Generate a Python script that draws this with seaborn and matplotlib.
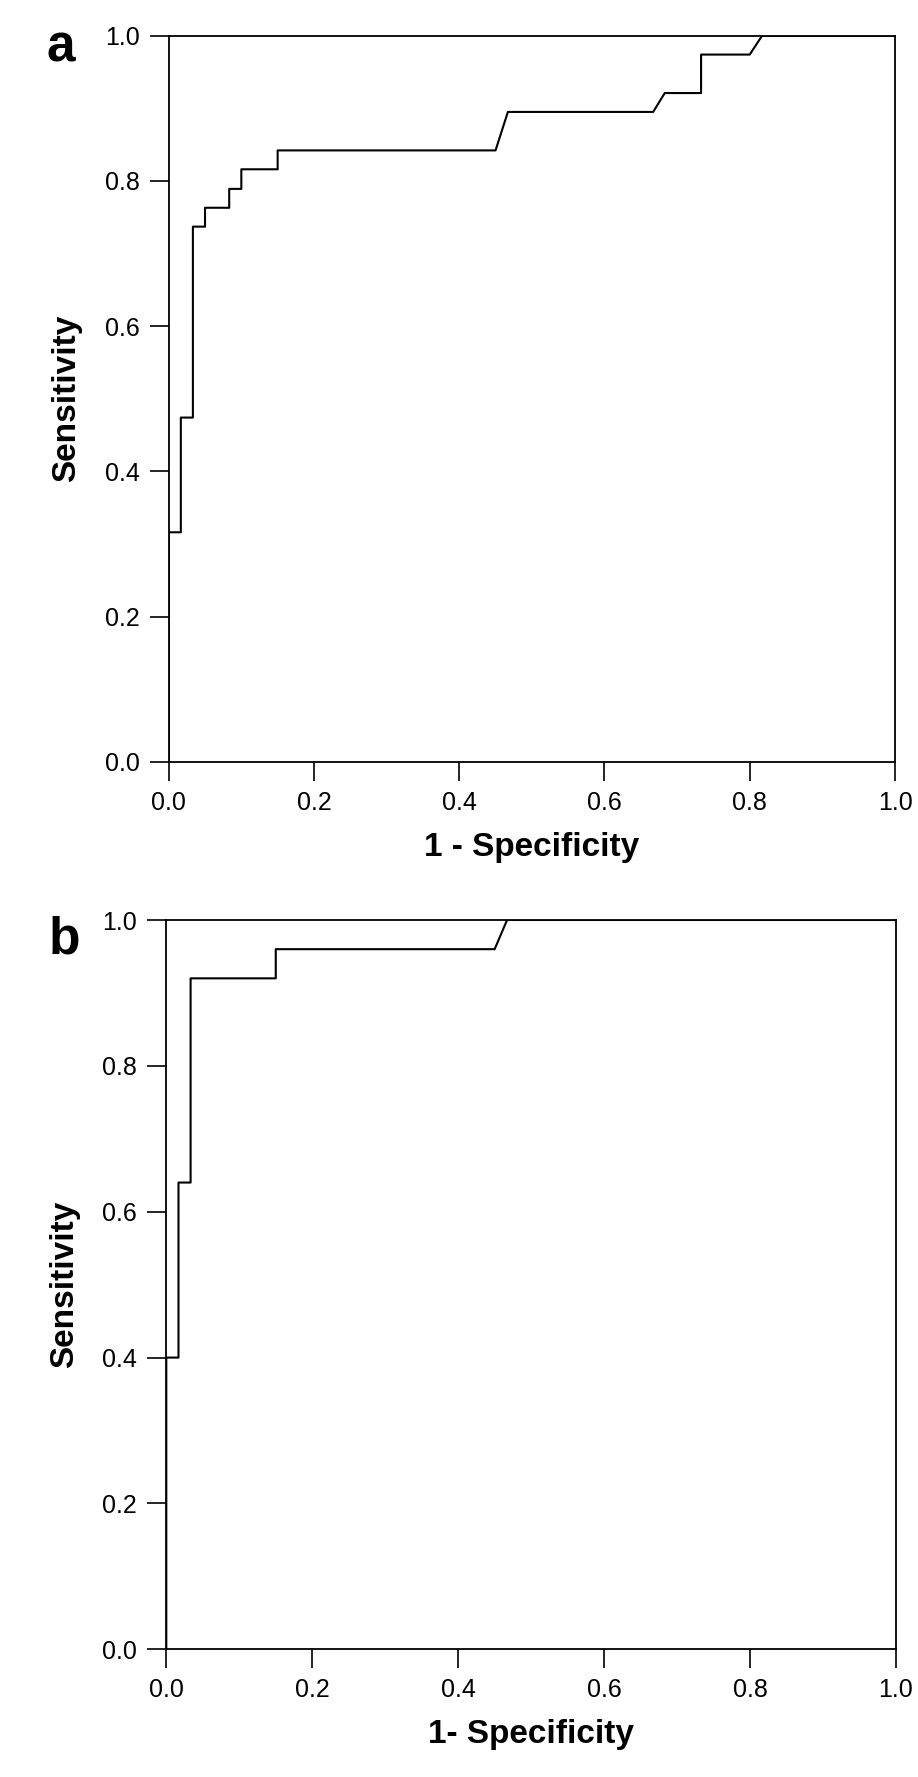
import matplotlib
matplotlib.use("Agg")
import matplotlib.pyplot as plt
import seaborn as sns
import pandas as pd

# ---- data ----
fpr_a = [0.0, 0.0, 0.0167, 0.0167, 0.0333, 0.0333, 0.05, 0.05, 0.0833, 0.0833,
         0.10, 0.10, 0.15, 0.15, 0.45, 0.467, 0.667, 0.683, 0.733, 0.733,
         0.80, 0.817, 1.0]
tpr_a = [0.0, 0.316, 0.316, 0.474, 0.474, 0.737, 0.737, 0.763, 0.763, 0.789,
         0.789, 0.816, 0.816, 0.842, 0.842, 0.895, 0.895, 0.921, 0.921, 0.974,
         0.974, 1.0, 1.0]

fpr_b = [0.0, 0.0, 0.0167, 0.0167, 0.0333, 0.0333, 0.15, 0.15, 0.45, 0.467, 1.0]
tpr_b = [0.0, 0.40, 0.40, 0.64, 0.64, 0.92, 0.92, 0.96, 0.96, 1.0, 1.0]

tick_vals = [0.0, 0.2, 0.4, 0.6, 0.8, 1.0]
tick_labels = ["0.0", "0.2", "0.4", "0.6", "0.8", "1.0"]
panel_letters = ["a", "b"]
xlabels = ["1 - Specificity", "1- Specificity"]
ylabel = "Sensitivity"

sns.set_theme(style="white")
plt.rcParams["font.family"] = ["Liberation Sans", "DejaVu Sans"]

W, H = 918, 1777
fig = plt.figure(figsize=(W / 100, H / 100), dpi=100)

# axes boxes in pixel coordinates (left, top, right, bottom)
boxes = [(168.7, 35.7, 895.0, 761.7), (166.3, 920.0, 896.0, 1649.3)]
letter_pos = [(47, 61), (49, 953)]

datasets = [(fpr_a, tpr_a), (fpr_b, tpr_b)]

for i, ((l, t, r, b), (fx, ty)) in enumerate(zip(boxes, datasets)):
    ax = fig.add_axes([l / W, 1 - b / H, (r - l) / W, (b - t) / H])
    df = pd.DataFrame({"fpr": fx, "tpr": ty})
    sns.lineplot(data=df, x="fpr", y="tpr", sort=False, estimator=None,
                 color="black", linewidth=1.5, ax=ax)
    ax.set_xlim(0, 1)
    ax.set_ylim(0, 1)
    ax.set_xticks(tick_vals)
    ax.set_xticklabels(tick_labels)
    ax.set_yticks(tick_vals)
    ax.set_yticklabels(tick_labels)
    ax.tick_params(axis="both", direction="out", length=14, width=1.2,
                   pad=7, labelsize=18, colors="black",
                   bottom=True, left=True)
    for sp in ax.spines.values():
        sp.set_visible(True)
        sp.set_color("black")
        sp.set_linewidth(1.3)
    ax.set_xlabel(xlabels[i], fontsize=24, fontweight="bold", labelpad=12,
                  color="black")
    ax.set_ylabel(ylabel, fontsize=24, fontweight="bold", labelpad=16,
                  color="black")
    ax.grid(False)
    ax.set_facecolor("white")
    lx, ly = letter_pos[i]
    fig.text(lx / W, 1 - ly / H, panel_letters[i], fontsize=37,
             fontweight="bold", ha="left", va="baseline", color="black")

fig.savefig("out.png", dpi=100, facecolor="white")
